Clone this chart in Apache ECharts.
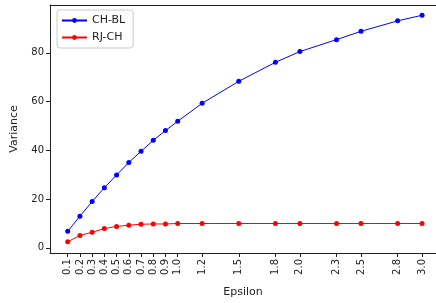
<!DOCTYPE html>
<html>
<head>
    <meta charset="utf-8">
    <title>Variance vs Epsilon</title>
    <script src="https://cdn.jsdelivr.net/npm/echarts@6.0.0/dist/echarts.min.js"></script>
    <style>
        body { margin: 0; background: #fff; }
        #chart { width: 436px; height: 303px; }
    </style>
</head>
<body>
    <div id="chart"></div>
    <script>
        // data
        var epsilon = [0.1, 0.2, 0.3, 0.4, 0.5, 0.6, 0.7, 0.8, 0.9, 1.0, 1.2, 1.5, 1.8, 2.0, 2.3, 2.5, 2.8, 3.0];
        var chBl = [6.8, 13.0, 19.0, 24.7, 29.9, 35.0, 39.6, 44.1, 48.1, 51.9, 59.3, 68.3, 76.1, 80.5, 85.4, 88.8, 93.1, 95.4];
        var rjCh = [2.5, 5.1, 6.4, 7.9, 8.8, 9.3, 9.7, 9.8, 9.8, 10.0, 10.0, 10.0, 10.0, 10.0, 10.0, 10.0, 10.0, 10.0];
        var yTicks = [0, 20, 40, 60, 80];

        function pairs(xs, ys) {
            return xs.map(function (x, i) { return [x, ys[i]]; });
        }

        var font = 'DejaVu Sans';
        var ink = '#222';
        var chart = echarts.init(document.getElementById('chart'));
        chart.setOption({
            animation: false,
            // the right spine falls just outside the picture, so only the top one is drawn
            grid: { left: 50, right: 0, top: 5, bottom: 46 },
            legend: {
                left: 57, top: 10,
                orient: 'vertical',
                itemWidth: 25, itemHeight: 6, itemGap: 6,
                padding: [5, 8, 5, 4],
                borderColor: '#ccc', borderWidth: 1, borderRadius: 3,
                textStyle: { fontFamily: font, fontSize: 11, color: ink },
                data: ['CH-BL', 'RJ-CH']
            },
            xAxis: [
                {
                    type: 'value',
                    min: -0.045, max: 3.114,
                    name: 'Epsilon', nameLocation: 'middle', nameGap: 34,
                    nameTextStyle: { fontFamily: font, fontSize: 11, color: ink },
                    axisLine: { onZero: false, lineStyle: { color: ink } },
                    axisTick: { customValues: epsilon, length: 4, lineStyle: { color: ink } },
                    axisLabel: {
                        customValues: epsilon, rotate: 90, margin: 6,
                        fontFamily: font, fontSize: 10, color: ink,
                        formatter: function (v) { return v.toFixed(1); }
                    },
                    splitLine: { show: false }
                },
                {
                    type: 'value', position: 'top',
                    min: -0.045, max: 3.114,
                    axisLine: { show: true, onZero: false, lineStyle: { color: ink } },
                    axisTick: { show: false },
                    axisLabel: { show: false },
                    splitLine: { show: false }
                }
            ],
            yAxis: {
                type: 'value',
                min: -2.1, max: 99.6,
                name: 'Variance', nameLocation: 'middle', nameGap: 30,
                nameTextStyle: { fontFamily: font, fontSize: 11, color: ink },
                axisLine: { show: true, onZero: false, lineStyle: { color: ink } },
                axisTick: { show: true, customValues: yTicks, length: 4, lineStyle: { color: ink } },
                axisLabel: {
                    customValues: yTicks, margin: 6,
                    fontFamily: font, fontSize: 10, color: ink
                },
                splitLine: { show: false }
            },
            series: [
                {
                    name: 'CH-BL', type: 'line',
                    data: pairs(epsilon, chBl),
                    symbol: 'circle', symbolSize: 5,
                    itemStyle: { color: '#0000ff' },
                    lineStyle: { color: '#0000ff', width: 1 }
                },
                {
                    name: 'RJ-CH', type: 'line',
                    data: pairs(epsilon, rjCh),
                    symbol: 'circle', symbolSize: 5,
                    itemStyle: { color: '#ff0000' },
                    lineStyle: { color: '#ff0000', width: 1 }
                }
            ]
        });
    </script>
</body>
</html>
